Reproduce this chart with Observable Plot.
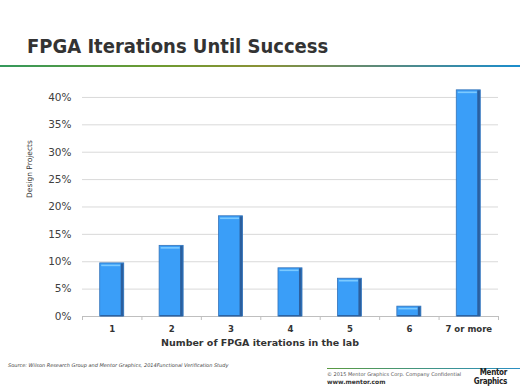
<!DOCTYPE html>
<html>
<head>
<meta charset="utf-8">
<script src="https://cdn.jsdelivr.net/npm/d3@7"></script>
<script src="https://cdn.jsdelivr.net/npm/@observablehq/plot@0.6"></script>
<style>
  html, body { margin: 0; padding: 0; background: #fff; overflow: hidden; }
  #wrap { position: relative; width: 520px; height: 390px; overflow: hidden; font-family: "DejaVu Sans", sans-serif; }
  #wrap svg { position: absolute; left: 0; top: 0; }
  .abs { position: absolute; white-space: nowrap; line-height: 1; }
  #title { left: 27px; top: 36px; font-size: 20px; font-weight: bold; color: #333; font-family: "DejaVu Sans Condensed", "DejaVu Sans", sans-serif; font-stretch: condensed; }
  #rule1 { left: 0; top: 65px; width: 520px; height: 2px; background: linear-gradient(to right, #34995c 0%, #6e9b30 30%, #8a9236 50%, #5e8a78 72%, #1a8dcd 100%); }
  #ylab { left: 30px; top: 169px; font-size: 7.5px; color: #333; transform: translate(-50%, -50%) rotate(-90deg); }
  #xlab { left: 260px; top: 343px; font-size: 9.5px; font-weight: bold; color: #333; transform: translate(-50%, -50%); }
  #source { left: 8px; top: 363px; font-size: 5px; font-style: italic; color: #444; }
  #rule2 { left: 327px; top: 368px; width: 193px; height: 1px; background: linear-gradient(to right, #5a9a40, #2a8fc4); }
  #copy { left: 327px; top: 372px; font-size: 5px; color: #555; }
  #web { left: 327px; top: 379px; font-size: 6px; font-weight: bold; color: #333; }
  .logo { font-family: "DejaVu Sans Condensed", "DejaVu Sans", sans-serif; font-stretch: condensed; font-size: 8px; font-weight: bold; color: #222; letter-spacing: -0.3px; }
  #logo1 { right: 13px; top: 369px; }
  #logo2 { right: 13px; top: 377.5px; }
</style>
</head>
<body>
<div id="wrap"></div>
<script>
const categories = ["1", "2", "3", "4", "5", "6", "7 or more"];
const values = [9.7, 12.9, 18.3, 8.8, 6.9, 1.8, 41.3];
const yTicks = [0, 5, 10, 15, 20, 25, 30, 35, 40];
const xBounds = [0, 1, 2, 3, 4, 5, 6, 7];

const data = values.map((v, i) => ({ i, v, cat: categories[i] }));
const inset = 17.7;

const chart = Plot.plot({
  width: 520,
  height: 390,
  marginLeft: 82,
  marginRight: 22,
  marginTop: 86,
  marginBottom: 74,
  style: { fontFamily: "DejaVu Sans, sans-serif", background: "transparent", color: "#444" },
  x: { type: "linear", domain: [0, 7], axis: null, label: null },
  y: { domain: [0, 42], axis: null, label: null },
  marks: [
    Plot.gridY(yTicks.filter(d => d > 0), { stroke: "#d9d9d9", strokeOpacity: 1, strokeWidth: 1 }),
    Plot.ruleY([0], { stroke: "#bfbfbf", strokeWidth: 1 }),
    Plot.axisX({ ticks: xBounds, tickFormat: () => "", tickSize: 4, stroke: "#bfbfbf", strokeOpacity: 1, label: null }),
    Plot.axisX({ ticks: xBounds.slice(0, -1).map(d => d + 0.5), tickFormat: d => categories[Math.floor(d)], tickSize: 0, tickPadding: 9, fontSize: 9.5, fontWeight: "bold", fontFamily: "DejaVu Sans Condensed, DejaVu Sans, sans-serif", fill: "#333", label: null }),
    Plot.axisY({ ticks: yTicks, tickFormat: d => d + "%", tickSize: 0, tickPadding: 11, fontSize: 10.5, fill: "#404040", label: null }),
    // bar body
    Plot.rectY(data, { x1: "i", x2: d => d.i + 1, y: "v", insetLeft: inset, insetRight: inset, fill: "#3a9ef8", stroke: "#3573b8", strokeWidth: 0.8 }),
    // right bevel
    Plot.rectY(data, { x1: "i", x2: d => d.i + 1, y: "v", insetLeft: inset + 21, insetRight: inset + 0.4, insetTop: 0.5, fill: "#2b5f9e" }),
    // top highlight
    Plot.ruleY(data, { y: "v", x1: "i", x2: d => d.i + 1, insetLeft: inset + 1.5, insetRight: inset + 3.5, dy: 2, stroke: "#7ccaff", strokeWidth: 1.6 }),
    // bottom edge
    Plot.ruleY(data, { y: 0, x1: "i", x2: d => d.i + 1, insetLeft: inset + 0.5, insetRight: inset + 0.5, dy: -0.8, stroke: "#2b5f9e", strokeWidth: 1.2 })
  ]
});

const wrap = document.getElementById("wrap");
wrap.appendChild(chart);

function addText(id, text, cls = "abs") {
  const d = document.createElement("div");
  d.id = id; d.className = cls; d.textContent = text;
  wrap.appendChild(d);
}
addText("title", "FPGA Iterations Until Success");
addText("rule1", "");
addText("ylab", "Design Projects");
addText("xlab", "Number of FPGA iterations in the lab");
addText("source", "Source:  Wilson Research Group and Mentor Graphics, 2014Functional Verification Study");
addText("rule2", "");
addText("copy", "© 2015 Mentor Graphics Corp.     Company Confidential");
addText("web", "www.mentor.com");
addText("logo1", "Mentor", "abs logo");
addText("logo2", "Graphics", "abs logo");
</script>
</body>
</html>
